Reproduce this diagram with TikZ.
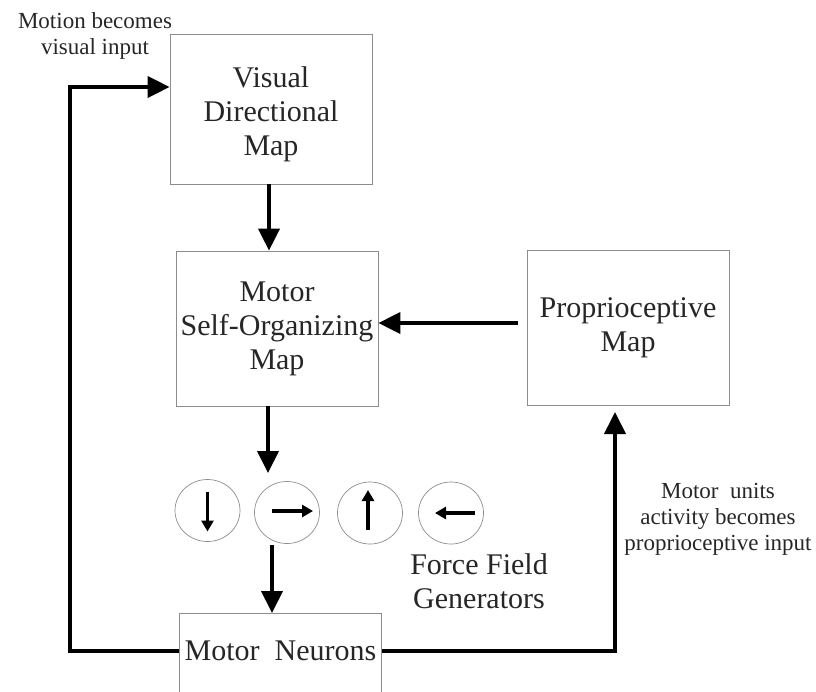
\documentclass[tikz,border=0pt]{standalone}
\usepackage{fontspec}
\setmainfont{Liberation Serif}
\usetikzlibrary{arrows.meta,shapes.geometric}
\begin{document}
\begin{tikzpicture}[x=1pt,y=-1pt,
  box/.style={draw=black!45, line width=0.8pt, minimum width=202pt, inner sep=0pt, align=center, font=\fontsize{30}{34}\selectfont, text=black!85},
  ffg/.style={draw=black!45, line width=0.7pt, ellipse, minimum width=65pt, minimum height=62pt, inner sep=0pt},
  arr/.style={line width=4pt, -{Triangle[length=22pt,width=21pt]}},
  smallarr/.style={line width=3.5pt, -{Triangle[length=11pt,width=12pt]}},
  lbl/.style={align=center, font=\fontsize{23}{26}\selectfont, text=black!85},
  big/.style={align=center, font=\fontsize{30}{34}\selectfont, text=black!85}]
\useasboundingbox (0,0) rectangle (816,691);

% boxes
\node[box, minimum height=150pt] (vis) at (271,109) {};
\node[big] (vist) at (271,114) {Visual\\Directional\\Map};
\node[box, minimum height=155pt] (som) at (277,328.5) {Motor\\Self-Organizing\\Map};
\node[box, minimum height=155pt] (prop) at (628,327.5) {Proprioceptive\\Map};
\node[box, minimum height=160pt, anchor=north] (mn) at (280.5,613) {};
\node[big] (mnt) at (280.5,651) {Motor\ \ Neurons};

% force field generators
\node[ffg] (c1) at (207.5,510.5) {};
\node[ffg] (c2) at (287,512.5) {};
\node[ffg] (c3) at (370,513) {};
\node[ffg] (c4) at (451,513) {};
\draw[smallarr] (c1.center) ++(0,-19) -- ++(0,40);
\draw[smallarr] (c2.center) ++(-15,-1.5) -- ++(41,0);
\draw[smallarr] (c3.center) ++(-2,17) -- ++(0,-40);
\draw[smallarr] (c4.center) ++(24,0) -- ++(-40,0);

% labels
\node[lbl] (mot) at (95,36) {Motion becomes\\visual input};
\node[big] (ffgl) at (479,581) {Force Field\\Generators};
\node[lbl] (mu) at (718,519) {Motor\ \ units\\activity becomes\\proprioceptive input};

% connectors
\draw[arr] ([xshift=-2pt]vis.south) -- ([xshift=-2pt]vis.south |- som.north);
\coordinate (ffin) at (268,473);
\draw[arr] (som.south -| ffin) -- (ffin);
\coordinate (c2out) at (272,545);
\draw[arr] (c2out) -- (c2out |- mn.north);
\coordinate (pin) at (518,323);
\draw[arr] (pin) -- (pin -| som.east);
\coordinate (rc) at (615,651);
\coordinate (rtip) at (615,412);
\draw[arr] (mn.east |- mnt) -- (rc) -- (rtip);
\coordinate (lc1) at (70,651);
\coordinate (lc2) at (70,87);
\draw[arr] (mn.west |- mnt) -- (lc1) -- (lc2) -- (lc2 -| vis.west);
\end{tikzpicture}
\end{document}
